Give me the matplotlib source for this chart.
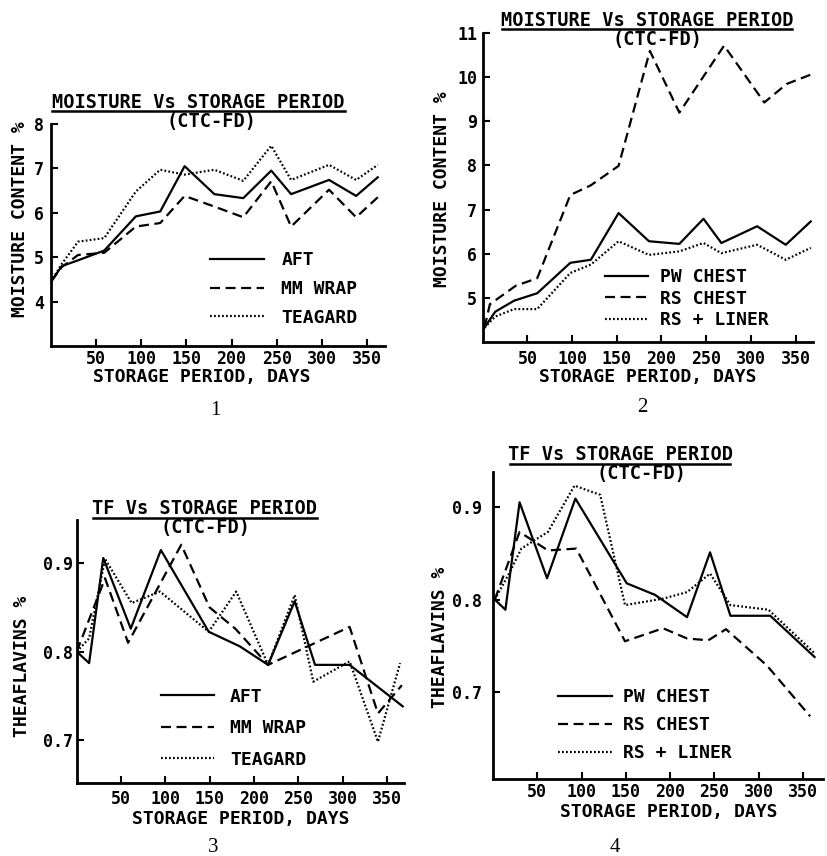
import numpy as np
import matplotlib
matplotlib.use("Agg")
import matplotlib.pyplot as plt
from matplotlib.lines import Line2D

W, H = 827, 856

# ---- panel 1 : moisture, AFT / MM WRAP / TEAGARD
p1_days = [0, 12, 30, 59, 94, 121, 148, 181, 213, 244, 266, 308, 338, 362]
p1_aft = [4.45, 4.8, 4.93, 5.15, 5.92, 6.03, 7.05, 6.42, 6.33, 6.95, 6.42, 6.74, 6.38, 6.8]
p1_mm = [4.45, 4.78, 5.05, 5.1, 5.69, 5.77, 6.38, 6.14, 5.9, 6.71, 5.69, 6.52, 5.9, 6.35]
p1_tea = [4.45, 4.85, 5.35, 5.43, 6.48, 6.97, 6.86, 6.97, 6.72, 7.51, 6.74, 7.08, 6.74, 7.08]

# ---- panel 2 : moisture, PW CHEST / RS CHEST / RS + LINER
p2_days = [2, 14, 35, 61, 98, 121, 152, 186, 220, 247, 267, 307, 339, 367]
p2_pw = [4.32, 4.68, 4.93, 5.1, 5.79, 5.86, 6.92, 6.28, 6.22, 6.79, 6.24, 6.62, 6.2, 6.73]
p2_liner = [4.32, 4.57, 4.74, 4.74, 5.56, 5.75, 6.28, 5.97, 6.05, 6.24, 6.01, 6.2, 5.86, 6.13]
p2_rs_days = [2, 8, 37, 61, 98, 121, 152, 187, 220, 270, 315, 340, 368]
p2_rs = [4.32, 4.85, 5.27, 5.44, 7.33, 7.55, 7.99, 10.6, 9.2, 10.72, 9.43, 9.85, 10.07]

# ---- panel 3 : theaflavins, AFT / MM WRAP / TEAGARD
p3_aft_days = [0, 14, 30, 61, 95, 149, 184, 216, 246, 269, 308, 368]
p3_aft = [0.80, 0.787, 0.906, 0.826, 0.915, 0.8225, 0.806, 0.785, 0.857, 0.785, 0.785, 0.738]
p3_mm_days = [0, 32, 58, 118, 150, 179, 216, 308, 340, 367]
p3_mm = [0.80, 0.883, 0.81, 0.921, 0.85, 0.826, 0.785, 0.828, 0.73, 0.762]
p3_tea_days = [0, 14, 32, 62, 94, 149, 180, 216, 246, 267, 308, 340, 365]
p3_tea = [0.80, 0.815, 0.905, 0.855, 0.868, 0.8225, 0.868, 0.785, 0.864, 0.766, 0.789, 0.698, 0.787]

# ---- panel 4 : theaflavins, PW CHEST / RS CHEST / RS + LINER
p4_pw_days = [2, 14, 30, 61, 93, 151, 183, 219, 245, 268, 313, 363]
p4_pw = [0.80, 0.789, 0.905, 0.823, 0.909, 0.8175, 0.805, 0.781, 0.851, 0.7825, 0.7825, 0.738]
p4_rs_days = [2, 30, 62, 94, 149, 192, 219, 243, 263, 309, 358]
p4_rs = [0.80, 0.873, 0.853, 0.855, 0.755, 0.769, 0.758, 0.756, 0.768, 0.729, 0.674]
p4_liner_days = [2, 17, 32, 62, 92, 121, 149, 192, 219, 245, 268, 311, 363]
p4_liner = [0.80, 0.826, 0.855, 0.873, 0.923, 0.913, 0.794, 0.801, 0.808, 0.828, 0.794, 0.789, 0.742]

x_ticks = [50, 100, 150, 200, 250, 300, 350]

plt.rcParams['font.family'] = ['DejaVu Sans Mono']
plt.rcParams['font.weight'] = 'bold'
plt.rcParams['axes.labelweight'] = 'bold'

SOLID = '-'
DASH = (0, (4.5, 2.5))
DOT = (0, (0.8, 1.0))
LW = 1.6
FS = 13
TFS = 12

fig = plt.figure(figsize=(W / 100, H / 100), dpi=100)


def px_axes(l, t, r, b):
    return fig.add_axes([l / W, 1 - b / H, (r - l) / W, (b - t) / H])


def style_axes(ax, xlim, ylim, yticks, yfmt, xpad, ypad):
    for s in ['top', 'right']:
        ax.spines[s].set_visible(False)
    for s in ['left', 'bottom']:
        ax.spines[s].set_linewidth(2)
    ax.set_xlim(*xlim)
    ax.set_ylim(*ylim)
    ax.set_xticks(x_ticks)
    ax.set_yticks(yticks)
    ax.set_yticklabels([yfmt.format(v) for v in yticks])
    ax.tick_params(direction='in', length=5, width=1.5, labelsize=TFS)
    ax.tick_params(axis='x', pad=xpad)
    ax.tick_params(axis='y', pad=ypad)


def labels(ax, ylab, xl, yl):
    ax.set_xlabel("STORAGE PERIOD, DAYS", fontsize=FS)
    ax.set_ylabel(ylab, fontsize=FS)
    ax.xaxis.set_label_coords(*xl)
    ax.yaxis.set_label_coords(*yl)
    ax.xaxis.label.set_va('center')
    ax.yaxis.label.set_va('center')


def title_block(text, cx, cy, x1, x2, uy, sx, sy):
    fig.text(cx / W, 1 - cy / H, text, ha='center', va='center', fontsize=13.4)
    fig.add_artist(Line2D([x1 / W, x2 / W], [1 - uy / H] * 2, color='k', lw=1.8))
    fig.text(sx / W, 1 - sy / H, "(CTC-FD)", ha='center', va='center', fontsize=13.4)


def legend(ax, anchor, hl, tp, ls):
    ax.legend(loc='center left', bbox_to_anchor=anchor, frameon=False,
              prop={'size': FS, 'weight': 'bold'}, handlelength=hl,
              handletextpad=tp, labelspacing=ls, borderpad=0, borderaxespad=0)


def caption(num, x, y):
    fig.text(x / W, 1 - y / H, num, ha='center', va='center',
             fontsize=15, family='Liberation Serif', weight='normal')


# panel 1
ax1 = px_axes(51, 124, 385, 346)
ax1.plot(p1_days, p1_aft, color='k', lw=LW, ls=SOLID, label='AFT')
ax1.plot(p1_days, p1_mm, color='k', lw=LW, ls=DASH, label='MM WRAP')
ax1.plot(p1_days, p1_tea, color='k', lw=LW, ls=DOT, label='TEAGARD')
style_axes(ax1, (0, 370), (3, 8), [4, 5, 6, 7, 8], "{:.0f}", 3, 5)
labels(ax1, "MOISTURE CONTENT %", (0.452, -0.14), (-0.093, 0.572))
legend(ax1, (0.476, 0.257), 3.0, 0.95, 0.6)
title_block("MOISTURE Vs STORAGE PERIOD", 198, 102, 52, 345, 111, 211, 122)
caption("1", 215, 410)

# panel 2
ax2 = px_axes(482.7, 33.3, 813, 341.7)
ax2.plot(p2_days, p2_pw, color='k', lw=LW, ls=SOLID, label='PW CHEST')
ax2.plot(p2_rs_days, p2_rs, color='k', lw=LW, ls=DASH, label='RS CHEST')
ax2.plot(p2_days, p2_liner, color='k', lw=LW, ls=DOT, label='RS + LINER')
style_axes(ax2, (0, 369.5), (4, 11), [5, 6, 7, 8, 9, 10, 11], "{:.0f}", 6, 4)
labels(ax2, "MOISTURE CONTENT %", (0.5, -0.114), (-0.123, 0.495))
legend(ax2, (0.37, 0.14), 2.4, 0.67, 0.2)
title_block("MOISTURE Vs STORAGE PERIOD", 647, 20, 502, 792, 29, 658, 40)
caption("2", 642, 408)

# panel 3
ax3 = px_axes(76.7, 520, 404, 782.7)
ax3.plot(p3_aft_days, p3_aft, color='k', lw=LW, ls=SOLID, label='AFT')
ax3.plot(p3_mm_days, p3_mm, color='k', lw=LW, ls=DASH, label='MM WRAP')
ax3.plot(p3_tea_days, p3_tea, color='k', lw=LW, ls=DOT, label='TEAGARD')
style_axes(ax3, (0, 369.4), (0.6516, 0.949), [0.7, 0.8, 0.9], "{:.1f}", 5.5, 3)
labels(ax3, "THEAFLAVINS %", (0.502, -0.138), (-0.166, 0.444))
legend(ax3, (0.258, 0.208), 2.9, 0.9, 0.75)
title_block("TF Vs STORAGE PERIOD", 205, 509, 93, 317, 518, 206, 528)
caption("3", 213, 848)

# panel 4
ax4 = px_axes(493, 471.7, 823, 779.3)
ax4.plot(p4_pw_days, p4_pw, color='k', lw=LW, ls=SOLID, label='PW CHEST')
ax4.plot(p4_rs_days, p4_rs, color='k', lw=LW, ls=DASH, label='RS CHEST')
ax4.plot(p4_liner_days, p4_liner, color='k', lw=LW, ls=DOT, label='RS + LINER')
style_axes(ax4, (0, 372.5), (0.606, 0.938), [0.7, 0.8, 0.9], "{:.1f}", 3, 8)
labels(ax4, "THEAFLAVINS %", (0.533, -0.106), (-0.16, 0.463))
legend(ax4, (0.197, 0.1765), 3.0, 0.6, 0.55)
title_block("TF Vs STORAGE PERIOD", 620, 455, 510, 730, 464, 642, 473)
caption("4", 615, 848)

fig.savefig("out.png", dpi=100, facecolor='white')
